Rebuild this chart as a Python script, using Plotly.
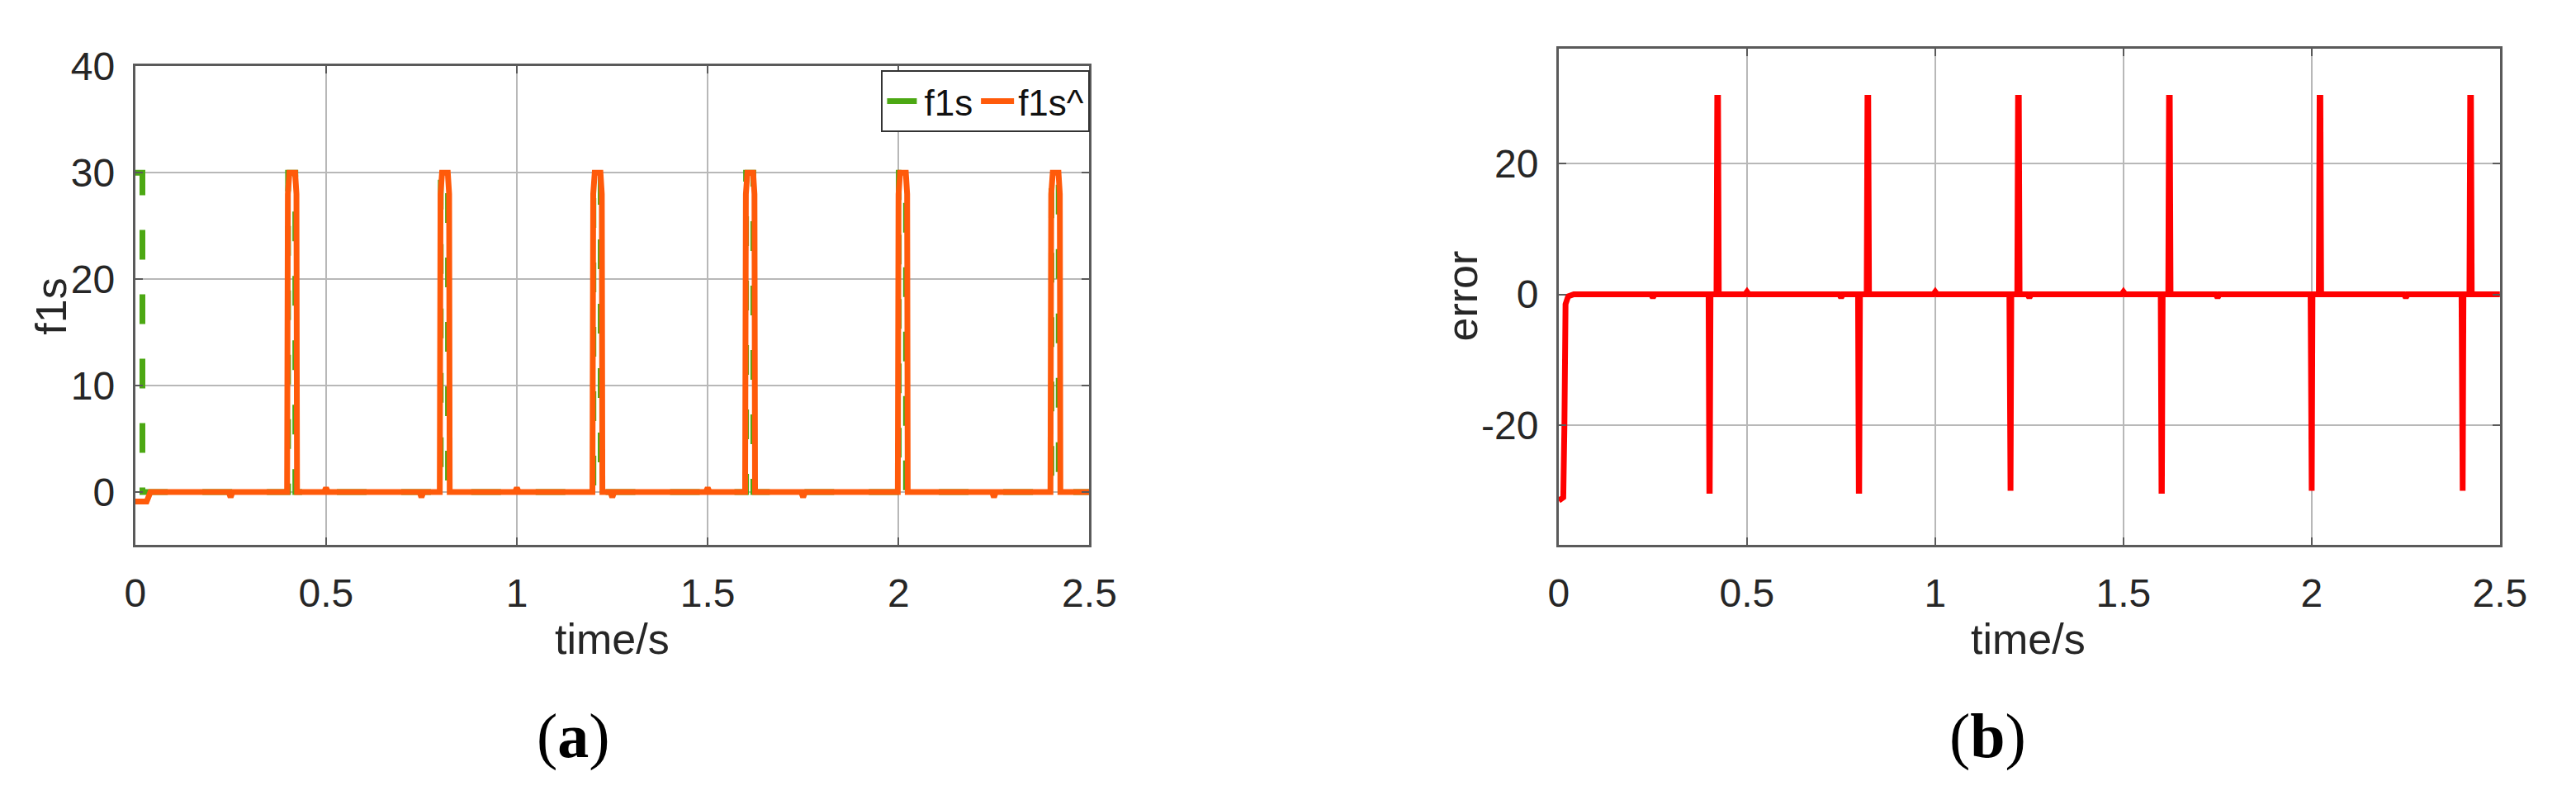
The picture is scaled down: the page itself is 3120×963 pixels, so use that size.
import plotly.graph_objects as go

# ---------------- data ----------------
x_ticks = [0, 0.5, 1, 1.5, 2, 2.5]
x_ticktext = ["0", "0.5", "1", "1.5", "2", "2.5"]
ya_ticks = [0, 10, 20, 30, 40]
ya_ticktext = ["0", "10", "20", "30", "40"]
yb_ticks = [-20, 0, 20]
yb_ticktext = ["-20", "0", "20"]

# f1s (true signal), green dashed
f1s_t = [0.000, 0.019, 0.019,
         0.4005, 0.4005, 0.4195, 0.4195,
         0.8005, 0.8005, 0.8195, 0.8195,
         1.2005, 1.2005, 1.2195, 1.2195,
         1.6005, 1.6005, 1.6195, 1.6195,
         2.0005, 2.0005, 2.0195, 2.0195,
         2.4005, 2.4005, 2.4195, 2.4195, 2.500]
f1s_v = [30, 30, 0,
         0, 30, 30, 0,
         0, 30, 30, 0,
         0, 30, 30, 0,
         0, 30, 30, 0,
         0, 30, 30, 0,
         0, 30, 30, 0, 0]

# f1s^ (estimate), orange solid
hat_t = [0.000, 0.030, 0.040,
         0.245, 0.250, 0.255,
         0.398, 0.400, 0.404, 0.419, 0.4225, 0.424,
         0.495, 0.500, 0.505,
         0.745, 0.750, 0.755,
         0.798, 0.800, 0.804, 0.819, 0.8225, 0.824,
         0.995, 1.000, 1.005,
         1.198, 1.200, 1.204, 1.219, 1.2225, 1.224,
         1.245, 1.250, 1.255,
         1.495, 1.500, 1.505,
         1.598, 1.600, 1.604, 1.619, 1.6225, 1.624,
         1.745, 1.750, 1.755,
         1.998, 2.000, 2.004, 2.019, 2.0225, 2.024,
         2.245, 2.250, 2.255,
         2.398, 2.400, 2.404, 2.419, 2.4225, 2.424,
         2.500]
hat_v = [-0.9, -0.9, 0.0,
         0.0, -0.5, 0.0,
         0.0, 28, 30, 30, 28, 0.0,
         0.0, 0.4, 0.0,
         0.0, -0.5, 0.0,
         0.0, 28, 30, 30, 28, 0.0,
         0.0, 0.4, 0.0,
         0.0, 28, 30, 30, 28, 0.0,
         0.0, -0.5, 0.0,
         0.0, 0.4, 0.0,
         0.0, 28, 30, 30, 28, 0.0,
         0.0, -0.5, 0.0,
         0.0, 28, 30, 30, 28, 0.0,
         0.0, -0.5, 0.0,
         0.0, 28, 30, 30, 28, 0.0,
         0.0]

# error, red solid
err_t = [0.000, 0.012, 0.015, 0.018, 0.025, 0.040,
         0.245, 0.250, 0.255,
         0.398, 0.400, 0.401, 0.403, 0.419, 0.421, 0.423, 0.425,
         0.495, 0.500, 0.505,
         0.745, 0.750, 0.755,
         0.795, 0.797, 0.798, 0.800, 0.818, 0.820, 0.822, 0.824,
         0.995, 1.000, 1.005,
         1.197, 1.199, 1.200, 1.202, 1.218, 1.220, 1.222, 1.224,
         1.245, 1.250, 1.255,
         1.495, 1.500, 1.505,
         1.599, 1.601, 1.602, 1.604, 1.619, 1.621, 1.623, 1.625,
         1.745, 1.750, 1.755,
         1.997, 1.999, 2.000, 2.002, 2.019, 2.021, 2.023, 2.025,
         2.245, 2.250, 2.255,
         2.398, 2.400, 2.401, 2.403, 2.419, 2.421, 2.423, 2.425,
         2.500]
err_v = [-31.5, -31.0, -20.0, -1.5, -0.3, 0.0,
         0.0, -0.5, 0.0,
         0.0, -30.0, -30.0, 0.0, 0.0, 30.0, 30.0, 0.0,
         0.0, 0.4, 0.0,
         0.0, -0.5, 0.0,
         0.0, -30.0, -30.0, 0.0, 0.0, 30.0, 30.0, 0.0,
         0.0, 0.4, 0.0,
         0.0, -30.0, -30.0, 0.0, 0.0, 30.0, 30.0, 0.0,
         0.0, -0.5, 0.0,
         0.0, 0.4, 0.0,
         0.0, -30.0, -30.0, 0.0, 0.0, 30.0, 30.0, 0.0,
         0.0, -0.5, 0.0,
         0.0, -30.0, -30.0, 0.0, 0.0, 30.0, 30.0, 0.0,
         0.0, -0.5, 0.0,
         0.0, -30.0, -30.0, 0.0, 0.0, 30.0, 30.0, 0.0,
         0.0]

# ---------------- figure ----------------
W, H = 3120, 963
GREEN = "#4CA813"
ORANGE = "#FF5A0A"
RED = "#FF0000"
AXC = "#5A5A5A"
TXT = "#262626"
GRID = "#B8B8B8"
SANS = "Liberation Sans, Arial, sans-serif"
SERIF = "Liberation Serif, Times New Roman, serif"

fig = go.Figure()
fig.add_trace(go.Scatter(x=f1s_t, y=f1s_v, mode="lines", name="f1s",
                         line=dict(color=GREEN, width=7, dash="36px,42px"),
                         xaxis="x", yaxis="y"))
fig.add_trace(go.Scatter(x=hat_t, y=hat_v, mode="lines", name="f1s^",
                         line=dict(color=ORANGE, width=7),
                         xaxis="x", yaxis="y"))
fig.add_trace(go.Scatter(x=err_t, y=err_v, mode="lines", name="error",
                         line=dict(color=RED, width=7), showlegend=False,
                         xaxis="x2", yaxis="y2"))

def common():
    return dict(showgrid=True, gridcolor=GRID, gridwidth=2, zeroline=False,
                showline=True, linecolor=AXC, linewidth=3, mirror="ticks",
                ticks="inside", ticklen=9, tickwidth=2, tickcolor=AXC,
                tickfont=dict(family=SANS, size=48, color=TXT), fixedrange=True)

def xax(domain, anchor):
    return dict(domain=domain, range=[0, 2.5], tickvals=x_ticks, ticktext=x_ticktext,
                anchor=anchor, ticklabelstandoff=14, **common())

def yax(domain, rng, tv, tt, anchor):
    return dict(domain=domain, range=rng, tickvals=tv, ticktext=tt, anchor=anchor,
                ticklabelstandoff=12, **common())

yb0 = 1 - 652 / H
fig.update_layout(
    width=W, height=H,
    margin=dict(l=0, r=0, t=0, b=0),
    paper_bgcolor="white", plot_bgcolor="white",
    xaxis=xax([153 / W, 1326 / W], "y"),
    yaxis=yax([yb0, 1 - 56 / H], [-5, 40], ya_ticks, ya_ticktext, "x"),
    xaxis2=xax([1903 / W, 3060 / W], "y2"),
    yaxis2=yax([yb0, 1 - 34 / H], [-38.3, 37.5], yb_ticks, yb_ticktext, "x2"),
    showlegend=True,
    legend=dict(x=1327 / W, y=1 - 61 / H, xanchor="right", yanchor="top",
                orientation="h", bgcolor="white", bordercolor="#333333",
                borderwidth=2, font=dict(family=SANS, size=44, color="#111111"),
                itemwidth=40, tracegroupgap=0),
)

ann = []
def label(text, xpx, ypx, size, angle=0, family=SANS, color=TXT):
    ann.append(dict(text=text, x=xpx / W, y=1 - ypx / H, xref="paper", yref="paper",
                    xanchor="center", yanchor="middle", showarrow=False,
                    textangle=angle, font=dict(family=family, size=size, color=color)))

label("f1s", 50, 355, 52, angle=-90)
label("error", 1784, 342, 52, angle=-90)
label("time/s", 739, 769, 52)
label("time/s", 2480, 769, 52)
label("(<b>a</b>)", 692, 890, 76, family=SERIF, color="#000000")
label("(<b>b</b>)", 2430, 890, 76, family=SERIF, color="#000000")
fig.update_layout(annotations=ann)

fig.write_html("out.html",
               config={"displayModeBar": False},
               post_script="document.body.style.margin='0';document.body.style.overflow='hidden';")
